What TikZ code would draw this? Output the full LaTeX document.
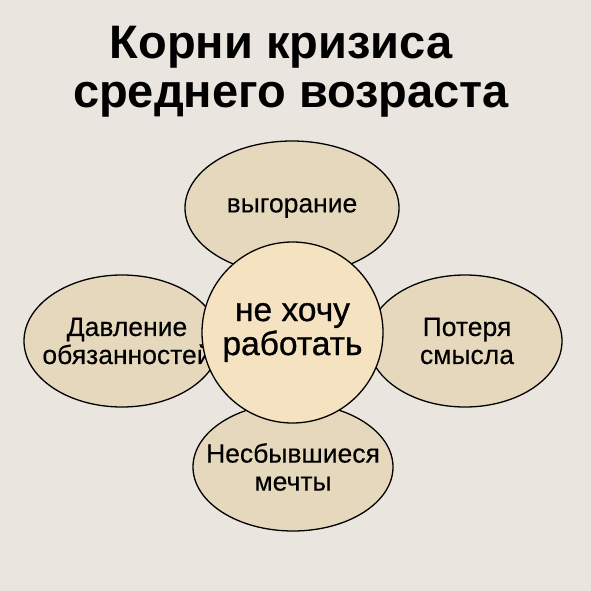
\documentclass[tikz,border=0pt]{standalone}
\usepackage{fontspec}
\setmainfont{Liberation Sans}
\usetikzlibrary{shapes.geometric}
\definecolor{bg}{HTML}{EAE6DF}
\definecolor{petal}{HTML}{E6D8BC}
\definecolor{core}{HTML}{F4E2C0}
\tikzset{
  petalbox/.style={ellipse, draw=black, line width=1.3pt, fill=petal, inner sep=0pt},
  petaltext/.style={align=center, inner sep=0pt, font=\fontsize{26.5}{28}\selectfont\addfontfeature{FakeBold=0.3}},
  corebox/.style={circle, draw=black, line width=1.3pt, fill=core, minimum size=181pt, inner sep=0pt, align=center, font=\fontsize{33.5}{34}\selectfont\addfontfeature{FakeBold=0.8}},
  titlebox/.style={anchor=base, font=\bfseries\fontsize{47}{50}\selectfont}
}
\begin{document}
\begin{tikzpicture}[x=1pt,y=-1pt]
\fill[bg] (0,0) rectangle (591,591);
\useasboundingbox (0,0) rectangle (591,591);
\node[titlebox] (title1) at (281,59) {Корни кризиса};
\node[titlebox] (title2) at (291,108) {среднего возраста};
\node[petalbox, minimum width=214pt, minimum height=134pt] (top) at (292,208) {};
\node[petaltext] (toptext) at (top.center) {выгорание};
\node[petalbox, minimum width=196pt, minimum height=132pt] (left) at (122,341) {};
\node[petaltext] (lefttext) at ([xshift=5pt]left.center) {Давление\\обязанностей};
\node[petalbox, minimum width=194pt, minimum height=132pt] (right) at (465,341) {};
\node[petaltext] (righttext) at ([xshift=2pt]right.center) {Потеря\\смысла};
\node[petalbox, minimum width=200pt, minimum height=128pt] (bottom) at (293,467) {};
\node[petaltext] (bottomtext) at (bottom.center) {Несбывшиеся\\мечты};
\node[corebox] (core) at (292.5,332.5) {не хочу\\работать};
\end{tikzpicture}
\end{document}
